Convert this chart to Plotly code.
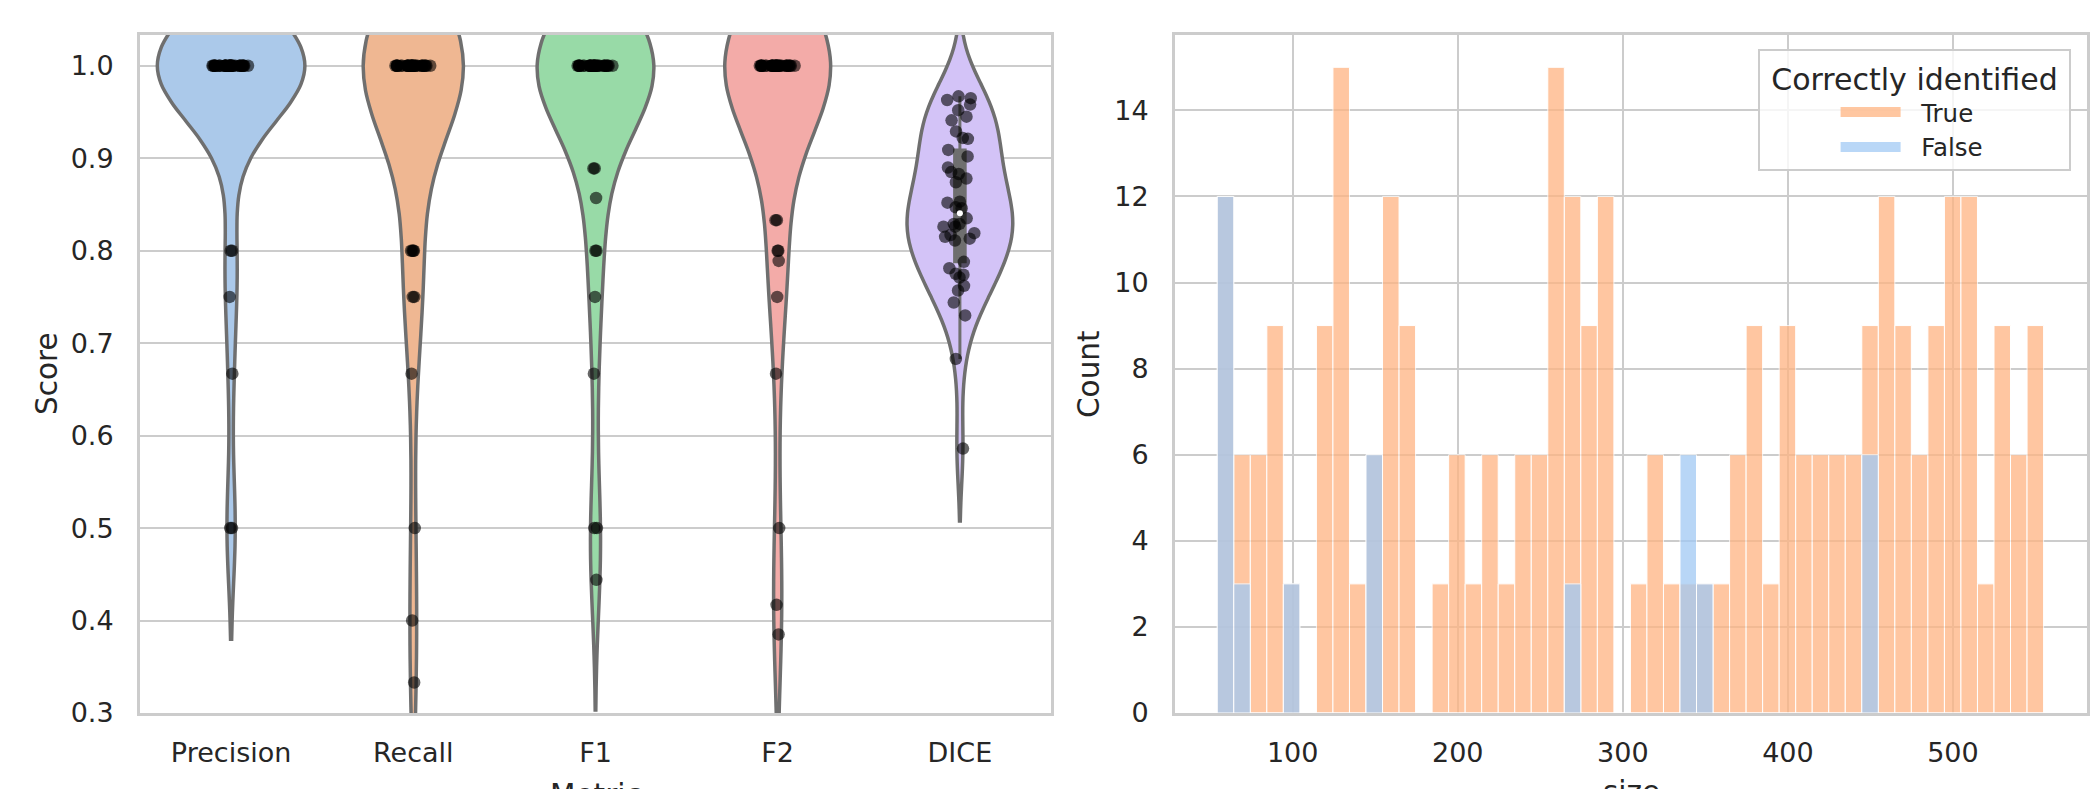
import numpy as np
import plotly.graph_objects as go

# ---------------- data ----------------
METRICS = ["Precision", "Recall", "F1", "F2", "DICE"]
PRECISION = [1.0] * 36 + [0.8, 0.8, 0.75, 0.667, 0.5, 0.5]
RECALL = [1.0] * 32 + [0.8, 0.8, 0.8, 0.8, 0.75, 0.75, 0.667, 0.5, 0.4, 0.333]
F1 = [1.0] * 32 + [0.889, 0.889, 0.857, 0.8, 0.8, 0.75, 0.667, 0.5, 0.5, 0.444]
F2 = [1.0] * 32 + [0.833, 0.833, 0.8, 0.8, 0.789, 0.75, 0.667, 0.5, 0.417, 0.385]
DICE = [0.967, 0.965, 0.963, 0.958, 0.952, 0.945, 0.941, 0.929, 0.922, 0.921,
        0.909, 0.902, 0.890, 0.885, 0.883, 0.878, 0.874, 0.853, 0.852, 0.847,
        0.846, 0.835, 0.829, 0.829, 0.826, 0.826, 0.819, 0.817, 0.815, 0.813,
        0.811, 0.788, 0.781, 0.775, 0.774, 0.771, 0.762, 0.757, 0.744, 0.730,
        0.683, 0.586]
SCORES = [PRECISION, RECALL, F1, F2, DICE]

SIZE_MIN = 54.3
SIZE_MAX = 554.9
N_BINS = 50
COUNT_TRUE = [12, 6, 6, 9, 3, 0, 9, 15, 3, 6,
              12, 9, 0, 3, 6, 3, 6, 3, 6, 6,
              15, 12, 9, 12, 0, 3, 6, 3, 3, 3,
              3, 6, 9, 3, 9, 6, 6, 6, 6, 9,
              12, 9, 6, 9, 12, 12, 3, 9, 6, 9]
COUNT_FALSE = [12, 3, 0, 0, 3, 0, 0, 0, 0, 6,
               0, 0, 0, 0, 0, 0, 0, 0, 0, 0,
               0, 3, 0, 0, 0, 0, 0, 0, 6, 3,
               0, 0, 0, 0, 0, 0, 0, 0, 0, 6,
               0, 0, 0, 0, 0, 0, 0, 0, 0, 0]
SIZE_TICKS = [100, 200, 300, 400, 500]
COUNT_TICKS = [0, 2, 4, 6, 8, 10, 12, 14]
SCORE_TICKS = [0.3, 0.4, 0.5, 0.6, 0.7, 0.8, 0.9, 1.0]

# ---------------- style ----------------
W, H = 2098, 789
FONT = "DejaVu Sans"
TXT = "#262626"
GRID = "#cccccc"
EDGE = "#6f6f6f"
FILLS = ["#abc9ea", "#efb792", "#98daa7", "#f3aba8", "#d3c3f7"]
VIOLIN_WIDTHS = [0.81, 0.55, 0.64, 0.58, 0.58]
ORANGE = "#ffb482"
BLUE = "#a1c9f4"

M_T, M_B = 35, 76
PH = H - M_T - M_B


def px_x(p):
    return p / W


def px_y(p):
    return (H - M_B - p) / PH


fig = go.Figure()

# ---------------- violins + strip points ----------------
for i, (name, vals) in enumerate(zip(METRICS, SCORES)):
    arr = np.asarray(vals, dtype=float)
    bw = arr.std(ddof=1) * len(arr) ** (-0.2)
    is_dice = name == "DICE"
    fig.add_trace(go.Violin(
        x=[name] * len(arr), y=arr, name=name, xaxis="x", yaxis="y",
        width=VIOLIN_WIDTHS[i], scalemode="width", spanmode="soft", bandwidth=bw,
        fillcolor=FILLS[i], line=dict(color=EDGE, width=3.5), opacity=1,
        points="all", pointpos=0, jitter=min(1.0, 0.21 / VIOLIN_WIDTHS[i]),
        marker=dict(color="rgba(0,0,0,0.6)", size=12.5, line=dict(width=0)),
        box=dict(visible=is_dice, width=0.1, fillcolor=EDGE,
                 line=dict(color=EDGE, width=3)),
        meanline=dict(visible=False), showlegend=False, hoverinfo="skip",
    ))
    if is_dice:
        fig.add_trace(go.Scatter(
            x=[name], y=[float(np.median(arr))], mode="markers", xaxis="x", yaxis="y",
            marker=dict(color="white", size=6, line=dict(width=0)),
            showlegend=False, hoverinfo="skip"))

# ---------------- histogram ----------------
edges = np.linspace(SIZE_MIN, SIZE_MAX, N_BINS + 1)
centers = (edges[:-1] + edges[1:]) / 2
bwid = edges[1] - edges[0]
fig.add_trace(go.Bar(
    x=centers, y=COUNT_TRUE, width=bwid, xaxis="x2", yaxis="y2",
    marker=dict(color=ORANGE, line=dict(color="white", width=1)),
    opacity=0.75, showlegend=False, hoverinfo="skip", name="True"))
fig.add_trace(go.Bar(
    x=centers, y=COUNT_FALSE, width=bwid, xaxis="x2", yaxis="y2",
    marker=dict(color=BLUE, line=dict(color="white", width=1)),
    opacity=0.75, showlegend=False, hoverinfo="skip", name="False"))

# legend entries
fig.add_trace(go.Scatter(x=[None], y=[None], mode="lines", xaxis="x2", yaxis="y2",
                         line=dict(color="rgba(255,180,130,0.75)", width=18),
                         name="\u00a0\u00a0True"))
fig.add_trace(go.Scatter(x=[None], y=[None], mode="lines", xaxis="x2", yaxis="y2",
                         line=dict(color="rgba(161,201,244,0.75)", width=18),
                         name="\u00a0\u00a0False"))

axis_common = dict(
    showline=True, mirror=True, linecolor=GRID, linewidth=3,
    gridcolor=GRID, gridwidth=2.4, zeroline=False,
    tickfont=dict(family=FONT, size=27, color=TXT),
    ticks="outside", tickcolor="rgba(0,0,0,0)", automargin=False,
)

fig.update_layout(
    width=W, height=H, autosize=False,
    margin=dict(l=0, r=0, t=M_T, b=M_B, pad=0),
    template="none",
    paper_bgcolor="white", plot_bgcolor="white",
    font=dict(family=FONT, color=TXT),
    violinmode="overlay", barmode="overlay",
    xaxis=dict(domain=[px_x(140), px_x(1051)], type="category",
               categoryorder="array", categoryarray=METRICS,
               range=[-0.5, 4.5], showgrid=False, ticklen=14, anchor="y",
               **axis_common),
    yaxis=dict(domain=[0, 1], range=[0.3, 1.0333], tickvals=SCORE_TICKS,
               ticktext=[f"{v:.1f}" for v in SCORE_TICKS], showgrid=True,
               ticklen=18, anchor="x", **axis_common),
    xaxis2=dict(domain=[px_x(1175), px_x(2087)], range=[28.7, 581.2],
                tickvals=SIZE_TICKS, showgrid=True, ticklen=14, anchor="y2",
                **axis_common),
    yaxis2=dict(domain=[0, 1], range=[0, 15.75], tickvals=COUNT_TICKS,
                showgrid=True, ticklen=18, anchor="x2", **axis_common),
    legend=dict(
        x=px_x(2071), xanchor="right", y=px_y(49), yanchor="top",
        bgcolor="rgba(255,255,255,0.8)", bordercolor=GRID, borderwidth=1.6,
        font=dict(family=FONT, size=24.5, color=TXT),
        title=dict(text="\u00a0Correctly identified\u00a0", side="top center",
                   font=dict(family=FONT, size=30, color=TXT)),
        itemwidth=60, tracegroupgap=0, indentation=76,
    ),
    annotations=[
        dict(text="Score", x=px_x(47), y=px_y(374), xref="paper", yref="paper",
             textangle=-90, showarrow=False, xanchor="center", yanchor="middle",
             font=dict(family=FONT, size=29.5, color=TXT)),
        dict(text="Count", x=px_x(1089), y=px_y(374), xref="paper", yref="paper",
             textangle=-90, showarrow=False, xanchor="center", yanchor="middle",
             font=dict(family=FONT, size=29.5, color=TXT)),
        dict(text="Metric", x=px_x(595.5), y=px_y(776), xref="paper", yref="paper",
             showarrow=False, xanchor="center", yanchor="top",
             font=dict(family=FONT, size=29.5, color=TXT)),
        dict(text="size", x=px_x(1631), y=px_y(773), xref="paper", yref="paper",
             showarrow=False, xanchor="center", yanchor="top",
             font=dict(family=FONT, size=29.5, color=TXT)),
    ],
)

fig.write_html("out.html")
